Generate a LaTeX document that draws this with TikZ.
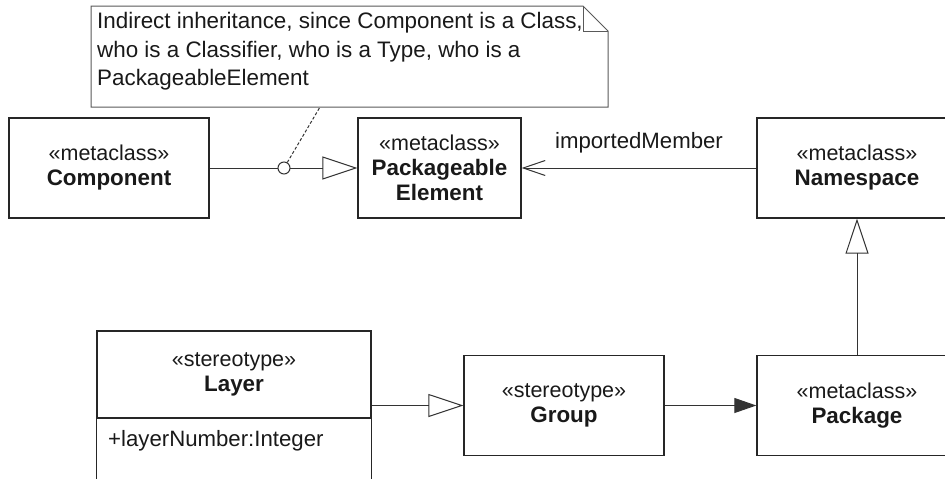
\documentclass[tikz,border=0pt]{standalone}
\usepackage{fontspec}
\setmainfont{Liberation Sans}
\usetikzlibrary{arrows.meta}
\newcommand{\stfont}{\fontsize{21.5}{25}\selectfont}
\newcommand{\nmfont}{\fontsize{22.4}{25}\selectfont\bfseries}
\begin{document}
\begin{tikzpicture}[x=1pt,y=-1pt,
  umlbox/.style={draw=black!85, line width=1.3pt, minimum width=200pt, minimum height=100pt,
    align=center, inner sep=0pt, font=\fontsize{21.5}{25}\selectfont, text=black!90},
  lbl/.style={font=\fontsize{22.2}{25}\selectfont, inner sep=0pt, text=black!90},
  conn/.style={draw=black!80, line width=1pt},
  gen/.style={conn, -{Triangle[open, length=35pt, width=23pt, line width=1pt]}},
  nav/.style={conn, -{Straight Barb[length=22pt, width=15pt, line width=1pt]}},
  dep/.style={conn, -{Triangle[length=22pt, width=15pt]}},
  noteline/.style={draw=black!65, line width=1pt},
  notelink/.style={conn, dash pattern=on 3pt off 2pt},
]
\useasboundingbox (0,0) rectangle (945,479);
\clip (0,0) rectangle (945,479);

% note
\draw[noteline, fill=white] (91,6) -- (583,6) -- (608,31) -- (608,107) -- (91,107) -- cycle;
\draw[noteline] (583,6) -- (583,31) -- (608,31);
\node[lbl, anchor=north west, align=left, font=\fontsize{22.4}{28.5}\selectfont] (note) at (97,12.5)
  {Indirect inheritance, since Component is a Class,\\who is a Classifier, who is a Type, who is a\\PackageableElement};
\coordinate (notefoot) at (320,107);

% boxes
\node[umlbox] (comp) at (109,168) {{\stfont «metaclass»}\\{\nmfont Component}};
\node[umlbox, minimum width=163pt] (pe) at (439.5,168) {{\stfont «metaclass»}\\{\nmfont Packageable}\\{\nmfont Element}};
\node[umlbox] (ns) at (857,168) {{\stfont «metaclass»}\\{\nmfont Namespace}};
\node[umlbox] (grp) at (564,405.5) {{\stfont «stereotype»}\\{\nmfont Group}};
\node[umlbox] (pkg) at (857,405.5) {{\stfont «metaclass»}\\{\nmfont Package}};
\node[umlbox, minimum width=274pt, minimum height=87pt] (layer) at (234,374.5) {{\stfont «stereotype»}\\{\nmfont Layer}};
\draw[draw=black!85, line width=1.3pt] (layer.south west) -- ++(0,80);
\draw[draw=black!85, line width=1.3pt] (layer.south east) -- ++(0,80);
\node[lbl, anchor=west] (attr) at (108,441) {+layerNumber:Integer};

% connectors
\draw[gen] (comp.east) -- (pe.west);
\node[circle, draw=black!80, fill=white, minimum size=12pt, inner sep=0pt, line width=1pt] (circ) at (284,168) {};
\draw[notelink] (circ) -- (notefoot);
\draw[nav] (ns.west) -- (pe.east) node[lbl, midway, yshift=25pt] (lblim) {importedMember};
\draw[gen] (pkg.north) -- (ns.south);
\draw[dep] (grp.east) -- (pkg.west);
\draw[gen] (grp.west -| layer.east) -- (grp.west);
\end{tikzpicture}
\end{document}
